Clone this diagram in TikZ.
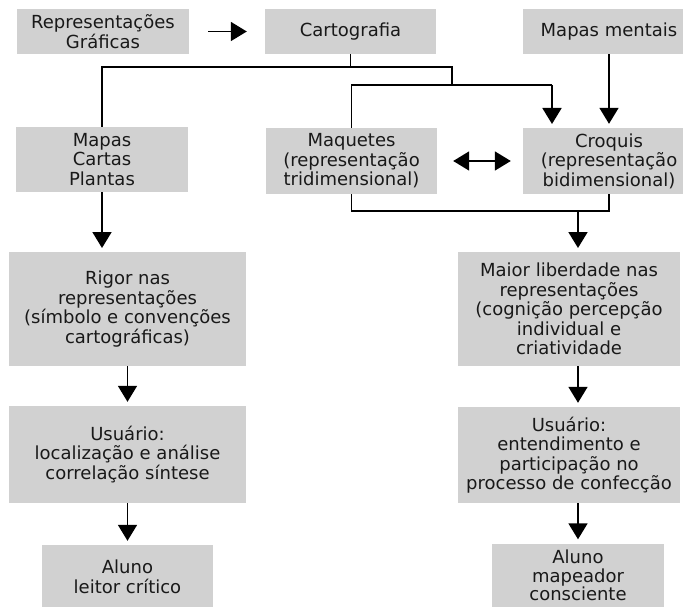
\documentclass[tikz,border=0pt]{standalone}
\usepackage{fontspec}
\setmainfont{DejaVu Sans}
\usetikzlibrary{arrows.meta}
\definecolor{boxgray}{RGB}{209,209,209}
\definecolor{txt}{RGB}{25,25,25}
\tikzset{
  box/.style={rectangle, fill=boxgray, draw=none, inner sep=0pt, align=center,
    text=txt, font=\fontsize{18}{19.5}\selectfont},
  ln/.style={line width=1.8pt, black},
  arr/.style={ln, -{Triangle[width=19pt,length=16pt]}, shorten >=4pt},
  darr/.style={ln, {Triangle[width=19pt,length=16pt]}-{Triangle[width=19pt,length=16pt]}}
}
\begin{document}
\begin{tikzpicture}[x=1pt,y=-1pt]
\clip (0,0) rectangle (683,607);
\fill[white] (0,0) rectangle (683,607);
% nodes
\node[box, minimum width=172pt, minimum height=45pt] (rep) at (103,31.5) {Representações\\Gráficas};
\node[box, minimum width=171pt, minimum height=45pt] (cart) at (350.5,31.5) {Cartografia};
\node[box, minimum width=172pt, minimum height=45pt] (mm) at (609,31.5) {Mapas mentais};
\node[box, minimum width=172pt, minimum height=65pt] (mapas) at (102,159.5) {Mapas\\Cartas\\Plantas};
\node[box, minimum width=171pt, minimum height=66pt] (maq) at (351.5,161) {Maquetes\\(representação\\tridimensional)};
\node[box, minimum width=172pt, minimum height=66pt] (croq) at (609,161) {Croquis\\(representação\\bidimensional)};
\node[box, minimum width=237pt, minimum height=114pt] (rigor) at (127.5,309) {Rigor nas\\representações\\(símbolo e convenções\\cartográficas)};
\node[box, minimum width=222pt, minimum height=114pt] (maior) at (569,309) {Maior liberdade nas\\representações\\(cognição percepção\\individual e\\criatividade};
\node[box, minimum width=237pt, minimum height=97pt] (usu1) at (127.5,454.5) {Usuário:\\localização e análise\\correlação síntese};
\node[box, minimum width=222pt, minimum height=96pt] (usu2) at (569,455) {Usuário:\\entendimento e\\participação no\\processo de confecção};
\node[box, minimum width=171pt, minimum height=64pt] (al1) at (127.5,577) {Aluno\\leitor crítico};
\node[box, minimum width=172pt, minimum height=64pt, font=\fontsize{18}{18.5}\selectfont] (al2) at (578,575.5) {Aluno\\mapeador\\consciente};
\fill[boxgray] (al1.south west) rectangle ++(171,10);
\fill[boxgray] (al2.south west) rectangle ++(172,10);
% junction coordinates
\coordinate (h1) at (452,67);
\coordinate (h2) at (452,85);
\coordinate (c1) at (552,85);
\coordinate (a1) at (552,128);
\coordinate (m1) at (578,211);
\coordinate (m3) at (578,252);
% connectors
\draw[arr] ([xshift=19pt]rep.east) -- ([xshift=-14pt]cart.west);
\draw[ln] (cart.south) -- (cart.south |- h1);
\draw[ln] (mapas.north) |- (h1) -- (h2);
\draw[ln] (maq.north) |- (c1);
\draw[arr] (c1) -- (a1);
\draw[arr] (mm.south) -- (croq.north);
\draw[darr] ([xshift=16pt]maq.east) -- ([xshift=-12pt]croq.west);
\draw[ln] (maq.south) |- (m1) -| (croq.south);
\draw[arr] (m1) -- (m3);
\draw[arr] (mapas.south) -- (mapas.south |- m3);
\draw[arr] (rigor.south) -- (usu1.north);
\draw[arr] (maior.south -| m1) -- (usu2.north -| m1);
\draw[arr] (usu1.south) -- (al1.north);
\draw[arr] (usu2.south -| al2.north) -- (al2.north);
\end{tikzpicture}
\end{document}
